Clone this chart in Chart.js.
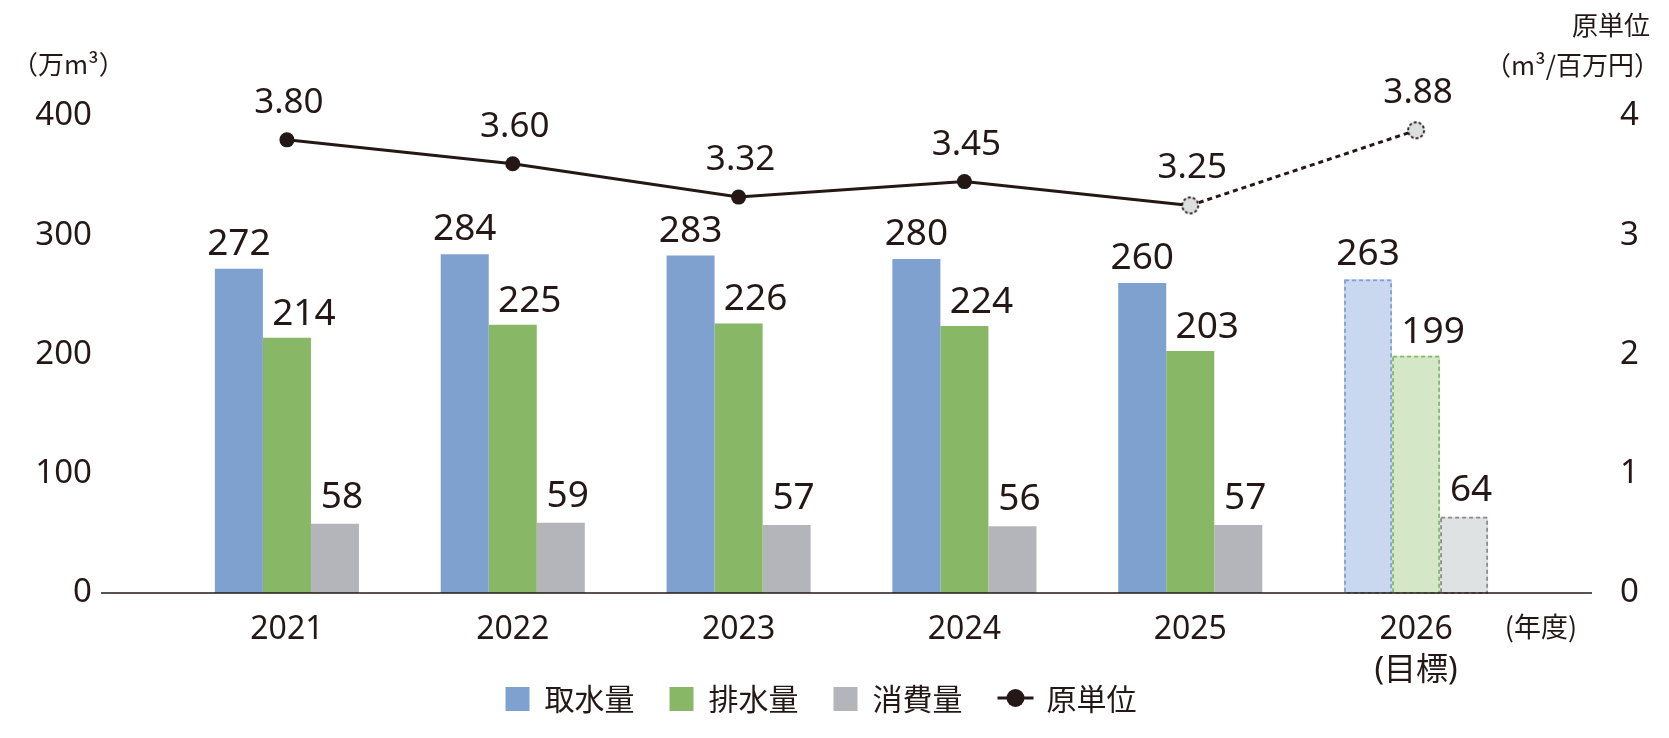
<!DOCTYPE html>
<html>
<head>
<meta charset="utf-8">
<style>
  html, body { margin: 0; padding: 0; background: #fff; }
  #chart { display: block; }
</style>
<script src="https://cdn.jsdelivr.net/npm/chart.js@4.4.1/dist/chart.umd.min.js"></script>
</head>
<body>
<canvas id="chart" width="1669" height="738"></canvas>
<script>
// Water intake / discharge / consumption with intensity line (2026 = target)

const YEARS = ['2021', '2022', '2023', '2024', '2025', ['2026', '(目標)']];
const INTAKE      = [272, 284, 283, 280, 260, 263];   // 取水量
const DISCHARGE   = [214, 225, 226, 224, 203, 199];   // 排水量
const CONSUMPTION = [58, 59, 57, 56, 57, 64];         // 消費量
const INTENSITY   = [3.80, 3.60, 3.32, 3.45, 3.25, 3.88]; // 原単位
const LEFT_TICKS  = [0, 100, 200, 300, 400];
const RIGHT_TICKS = [0, 1, 2, 3, 4];

const INK = '#231815';
const FONT = '"Noto Sans", "Noto Sans CJK JP", sans-serif';
const CJK = '"Noto Sans CJK JP", "Noto Sans", sans-serif';
const TARGET = 5; // index of the target year

const BLUE = '#7fa1d0', BLUE_L = '#cad8ef';
const GREEN = '#88b766', GREEN_L = '#d4e7c7';
const GRAY = '#b4b5ba', GRAY_L = '#dfe2e3';

// dashed-outline circle used for the 2025/2026 points
function dashedDot(r) {
  const c = document.createElement('canvas');
  const s = Math.ceil(r * 2 + 4);
  c.width = s; c.height = s;
  const g = c.getContext('2d');
  g.beginPath();
  g.arc(s / 2, s / 2, r, 0, Math.PI * 2);
  g.fillStyle = '#dcdfe0';
  g.fill();
  g.setLineDash([3, 2]);
  g.lineWidth = 1.8;
  g.strokeStyle = INK;
  g.stroke();
  return c;
}
const DOT_DASHED = dashedDot(8);

// label offsets per bar series (dx, gap above bar)
const LABEL_POS = [[0, 14], [17, 13], [7, 16]];

const extras = {
  id: 'extras',
  afterDatasetsDraw(chart) {
    const { ctx } = chart;
    const y = chart.scales.y;
    const y0 = y.getPixelForValue(0);
    ctx.save();

    // dashed outlines for the target bars
    const edge = [BLUE, GREEN, '#8c8c8c'];
    for (let d = 0; d < 3; d++) {
      const el = chart.getDatasetMeta(d).data[TARGET];
      const p = el.getProps(['x', 'y', 'base', 'width'], true);
      ctx.setLineDash([4, 3]);
      ctx.lineWidth = 1.8;
      ctx.strokeStyle = edge[d];
      ctx.strokeRect(p.x - p.width / 2 + 1, p.y + 1, p.width - 2, p.base - p.y - 1);
    }
    ctx.setLineDash([]);

    // baseline across the whole axis width
    ctx.strokeStyle = INK;
    ctx.lineWidth = 1.5;
    ctx.beginPath();
    ctx.moveTo(101, y0);
    ctx.lineTo(1592, y0);
    ctx.stroke();

    // bar value labels
    ctx.fillStyle = INK;
    ctx.textAlign = 'center';
    ctx.textBaseline = 'alphabetic';
    ctx.font = '37px ' + FONT;
    for (let d = 0; d < 3; d++) {
      const meta = chart.getDatasetMeta(d);
      const vals = chart.data.datasets[d].data;
      meta.data.forEach((el, i) => {
        ctx.fillText(String(vals[i]), el.x + LABEL_POS[d][0], el.y - LABEL_POS[d][1]);
      });
    }

    // line value labels
    ctx.font = '35px ' + FONT;
    const lm = chart.getDatasetMeta(3);
    lm.data.forEach((el, i) => {
      ctx.fillText(INTENSITY[i].toFixed(2), el.x + 2, el.y - 27);
    });

    // axis titles
    ctx.font = '26px ' + CJK;
    ctx.textBaseline = 'middle';
    ctx.textAlign = 'left';
    ctx.fillText('（万m³）', 12, 64);
    ctx.textAlign = 'right';
    ctx.fillText('原単位', 1650, 25);
    ctx.fillText('（m³/百万円）', 1660, 65);
    ctx.textAlign = 'center';
    ctx.font = '27px ' + CJK;
    ctx.fillText('(年度)', 1541, 627);

    // legend
    const items = [
      { text: '取水量', color: BLUE },
      { text: '排水量', color: GREEN },
      { text: '消費量', color: GRAY },
      { text: '原単位', line: true }
    ];
    ctx.font = '30px ' + CJK;
    ctx.textAlign = 'left';
    const widths = items.map(it => (it.line ? 36 + 13 : 24 + 15) + ctx.measureText(it.text).width);
    const total = widths.reduce((a, b) => a + b, 0) + 35 * (items.length - 1);
    let x = 821 - total / 2;
    const ly = 698;
    items.forEach(it => {
      if (it.line) {
        ctx.strokeStyle = INK;
        ctx.lineWidth = 3;
        ctx.beginPath();
        ctx.moveTo(x, ly); ctx.lineTo(x + 36, ly);
        ctx.stroke();
        ctx.beginPath();
        ctx.arc(x + 18, ly, 9, 0, Math.PI * 2);
        ctx.fillStyle = INK;
        ctx.fill();
        x += 36 + 13;
      } else {
        ctx.fillStyle = it.color;
        ctx.fillRect(x, ly - 11, 24, 24);
        x += 24 + 15;
      }
      ctx.fillStyle = INK;
      ctx.fillText(it.text, x, ly + 1);
      x += ctx.measureText(it.text).width + 35;
    });

    ctx.restore();
  }
};

const pick = (solid, light) => c => (c.dataIndex === TARGET ? light : solid);

new Chart(document.getElementById('chart'), {
  data: {
    labels: YEARS,
    datasets: [
      { type: 'bar', label: '取水量', data: INTAKE, yAxisID: 'y', order: 2,
        backgroundColor: pick(BLUE, BLUE_L), borderWidth: 0,
        barPercentage: 1.0, categoryPercentage: 0.638 },
      { type: 'bar', label: '排水量', data: DISCHARGE, yAxisID: 'y', order: 2,
        backgroundColor: pick(GREEN, GREEN_L), borderWidth: 0,
        barPercentage: 1.0, categoryPercentage: 0.638 },
      { type: 'bar', label: '消費量', data: CONSUMPTION, yAxisID: 'y', order: 2,
        backgroundColor: pick(GRAY, GRAY_L), borderWidth: 0,
        barPercentage: 1.0, categoryPercentage: 0.638 },
      { type: 'line', label: '原単位', data: INTENSITY, yAxisID: 'y1', order: 0,
        borderColor: INK, borderWidth: 3, tension: 0,
        pointRadius: 7.5, pointBackgroundColor: INK, pointBorderWidth: 0,
        pointStyle: c => (c.dataIndex >= 4 ? DOT_DASHED : 'circle'),
        segment: { borderDash: c => (c.p0DataIndex >= 4 ? [5, 4] : undefined) } }
    ]
  },
  options: {
    responsive: false,
    animation: false,
    layout: { padding: { top: 116, left: 0, right: 0, bottom: 0 } },
    plugins: { legend: { display: false }, tooltip: { enabled: false } },
    scales: {
      x: {
        grid: { display: false, drawTicks: false },
        border: { display: false },
        ticks: { color: INK, padding: 16, font: { family: FONT, size: 32, lineHeight: 1.28 },
                 maxRotation: 0, autoSkip: false },
        afterFit: s => { s.height = 145; }
      },
      y: {
        position: 'left', min: 0, max: 400,
        afterBuildTicks: s => { s.ticks = LEFT_TICKS.map(v => ({ value: v })); },
        grid: { display: false, drawTicks: false },
        border: { display: false },
        ticks: { color: INK, padding: 82, font: { family: FONT, size: 33 } },
        afterFit: s => { s.width = 174; }
      },
      y1: {
        position: 'right', min: 0, max: 4,
        afterBuildTicks: s => { s.ticks = RIGHT_TICKS.map(v => ({ value: v })); },
        grid: { display: false, drawTicks: false },
        border: { display: false },
        ticks: { color: INK, padding: 91, font: { family: FONT, size: 33 } },
        afterFit: s => { s.width = 140; }
      }
    }
  },
  plugins: [extras]
});
</script>
</body>
</html>
